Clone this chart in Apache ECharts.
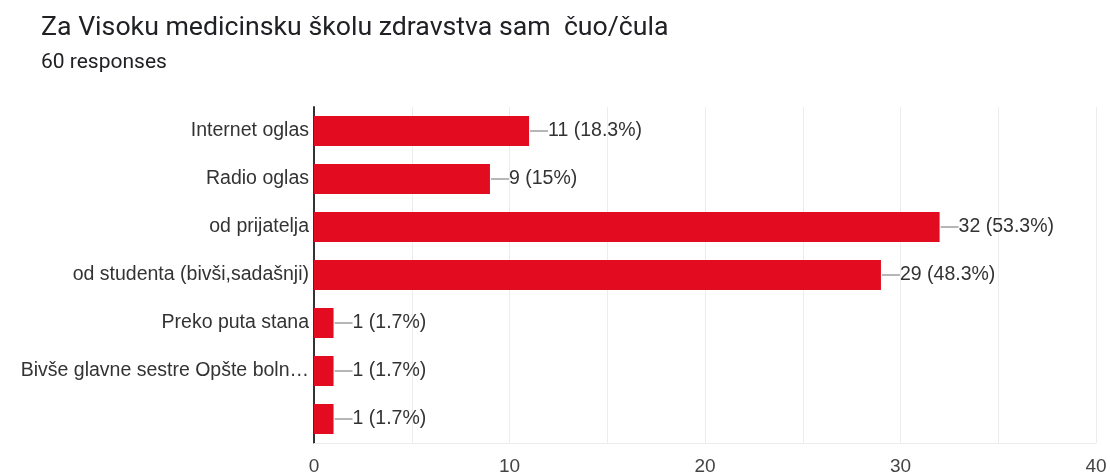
<!DOCTYPE html>
<html>
<head>
<meta charset="utf-8">
<script src="https://cdn.jsdelivr.net/npm/echarts@6/dist/echarts.min.js"></script>
<style>
  html, body { margin: 0; padding: 0; background: #fff; }
  #chart { width: 1110px; height: 476px; }
</style>
</head>
<body>
<div id="chart"></div>
<script>
// podaci sa slike
const categories = [
  "Internet oglas",
  "Radio oglas",
  "od prijatelja",
  "od studenta (bivši,sadašnji)",
  "Preko puta stana",
  "Bivše glavne sestre Opšte boln…",
  ""
];
const counts = [11, 9, 32, 29, 1, 1, 1];
const percents = ["18.3%", "15%", "53.3%", "48.3%", "1.7%", "1.7%", "1.7%"];
const xTicks = [0, 10, 20, 30, 40];

const chart = echarts.init(document.getElementById("chart"));

chart.setOption({
  animation: false,
  textStyle: { fontFamily: "Liberation Sans" },
  title: {
    text: "Za Visoku medicinsku školu zdravstva sam  čuo/čula",
    subtext: "60 responses",
    left: 36,
    top: 10,
    itemGap: 10,
    textStyle: { fontFamily: "Roboto", fontSize: 26.7, fontWeight: "normal", color: "#202124" },
    subtextStyle: { fontFamily: "Roboto", fontSize: 21, color: "#202124" }
  },
  grid: {
    left: 314,
    right: 14,
    top: 107,
    bottom: 33
  },
  xAxis: {
    type: "value",
    min: 0,
    max: 40,
    interval: 5,
    axisLine: { show: true, lineStyle: { color: "#ececec" } },
    axisTick: { show: false },
    splitLine: { lineStyle: { color: "#ececec", width: 1 } },
    axisLabel: {
      fontFamily: "Liberation Sans",
      fontSize: 19,
      color: "#444",
      margin: 14,
      formatter: v => (xTicks.includes(v) ? String(v) : "")
    }
  },
  yAxis: {
    type: "category",
    inverse: true,
    data: categories,
    axisLine: { lineStyle: { color: "#333", width: 2 } },
    axisTick: { show: false },
    axisLabel: { fontFamily: "Liberation Sans", fontSize: 19.5, color: "#333", margin: 5 }
  },
  series: [
    {
      type: "bar",
      data: counts,
      barWidth: 30,
      itemStyle: { color: "#e20b20" },
      label: {
        show: true,
        position: "right",
        distance: 1,
        formatter: p => `{line| }{t|${counts[p.dataIndex]} (${percents[p.dataIndex]})}`,
        rich: {
          line: { width: 18, height: 1.5, backgroundColor: "#9e9e9e" },
          t: { fontFamily: "Liberation Sans", fontSize: 19.5, color: "#333" }
        }
      }
    }
  ]
});
</script>
</body>
</html>
